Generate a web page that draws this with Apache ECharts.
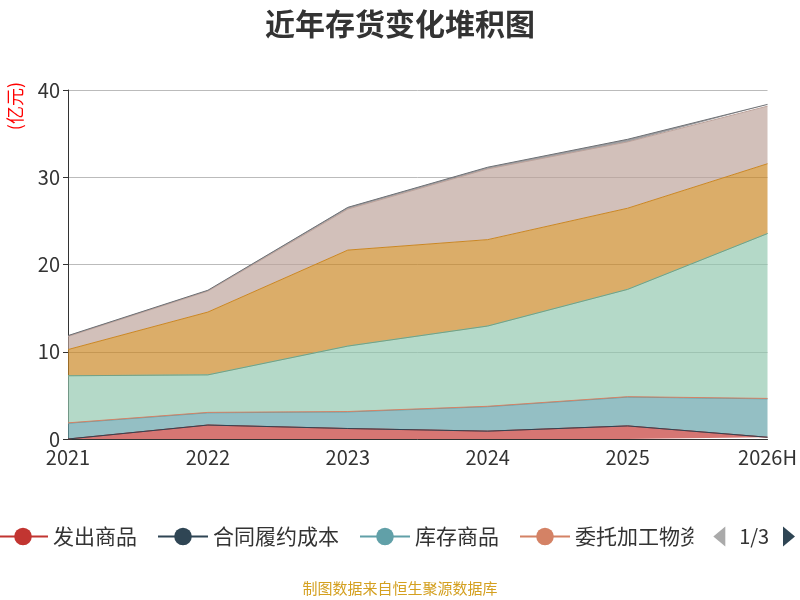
<!DOCTYPE html>
<html><head><meta charset="utf-8">
<script src="https://cdn.jsdelivr.net/npm/echarts@6/dist/echarts.min.js"></script>
<style>html,body{margin:0;padding:0}#c{width:800px;height:600px}</style>
</head><body><div id="c"></div>
<script>
const categories = ['2021','2022','2023','2024','2025','2026H'];
const names = ['发出商品','合同履约成本','库存商品','委托加工物资','原材料','半成品','在产品','周转材料','其他'];
const s0 = [0, 1.6, 1.2, 0.9, 1.5, 0.2];
const s1 = [0, 0, 0, 0, 0, 0];
const s2 = [1.8, 1.4, 1.9, 2.8, 3.3, 4.4];
const s3 = [0.05, 0.05, 0.05, 0.05, 0.05, 0.05];
const s4 = [5.4, 4.3, 7.5, 9.2, 12.3, 18.9];
const s5 = [0, 0, 0, 0, 0, 0];
const s6 = [3.0, 7.2, 11.0, 9.9, 9.3, 8.0];
const s7 = [1.5, 2.4, 4.7, 8.1, 7.6, 6.6];
const s8 = [0.1, 0.1, 0.2, 0.2, 0.3, 0.2];
const values = [s0,s1,s2,s3,s4,s5,s6,s7,s8];
const colors = ['#c23531','#2f4554','#61a0a8','#d48265','#91c7ae','#749f83','#ca8622','#bda29a','#6e7074'];
const chart = echarts.init(document.getElementById('c'));
chart.setOption({
  color: colors,
  textStyle: {fontFamily:'Noto Sans CJK SC'},
  title: {text:'近年存货变化堆积图', left:'center', top:4, textStyle:{fontSize:30, fontWeight:'bold', color:'#333', fontFamily:'Noto Sans CJK SC'}},
  grid: {left:68, right:32, top:90, bottom:161},
  xAxis: {type:'category', data:categories, boundaryGap:false,
    axisLine:{lineStyle:{color:'#333'}}, axisTick:{show:false},
    axisLabel:{fontSize:20, color:'#333'}},
  yAxis: {type:'value', min:0, max:40, interval:10, name:'(亿元)', nameLocation:'end',
    nameRotate:90, nameGap:8, nameTextStyle:{color:'red', fontSize:18, align:'right', verticalAlign:'bottom', padding:[0,0,44,0]},
    axisLine:{show:true, lineStyle:{color:'#333'}}, axisTick:{show:true, length:5},
    axisLabel:{fontSize:20, color:'#333'}, splitLine:{lineStyle:{color:'#bbb'}}},
  legend: {type:'scroll', bottom:48, left:-8, right:0, itemWidth:50, itemHeight:22, itemGap:20,
    textStyle:{fontSize:21, color:'#333'}, pageTextStyle:{fontSize:20, color:'#333'},
    pageIconSize:20, pageIconColor:'#2f4554', pageIconInactiveColor:'#aaa'},
  graphic: [{type:'text', left:'center', bottom:4, style:{text:'制图数据来自恒生聚源数据库', fill:'#d4a020', fontSize:15, fontFamily:'Noto Sans CJK SC'}}],
  series: names.map((n,i)=>({name:n, type:'line', stack:'total', data:values[i],
    showSymbol:false, symbol:'circle', symbolSize:22, lineStyle:{width:1}, areaStyle:{opacity:0.68}}))
});
</script></body></html>
